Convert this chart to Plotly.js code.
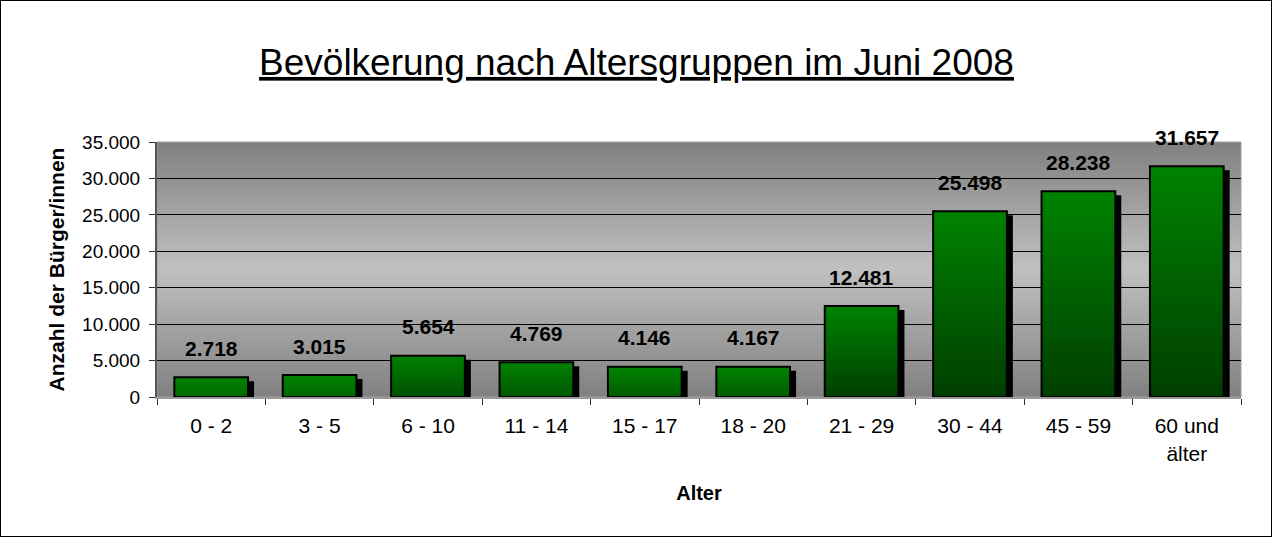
<!DOCTYPE html>
<html>
<head>
<meta charset="utf-8">
<script src="https://cdn.plot.ly/plotly-3.0.1.min.js"></script>
<style>
  html, body { margin: 0; padding: 0; background: #fff; }
  #wrap { position: relative; width: 1273px; height: 538px; }
  #chart { width: 1273px; height: 538px; }
  #frame { position: absolute; left: 0; top: 0; width: 1272px; height: 537px;
           border: 1px solid #000; box-sizing: border-box; pointer-events: none; }
</style>
</head>
<body>
<div id="wrap"><div id="chart"></div><div id="frame"></div></div>
<script>
// ---- data ----
const chartTitle = 'Bevölkerung nach Altersgruppen im Juni 2008';
const xTitle = 'Alter';
const yTitle = 'Anzahl der Bürger/innen';
const categories = ['0 - 2', '3 - 5', '6 - 10', '11 - 14', '15 - 17', '18 - 20',
                    '21 - 29', '30 - 44', '45 - 59', '60 und<br>älter'];
const residents = [2718, 3015, 5654, 4769, 4146, 4167, 12481, 25498, 28238, 31657];

function fmtDE(v) {
  return String(v).replace(/\B(?=(\d{3})+(?!\d))/g, '.');
}

const FONT = 'Liberation Sans, Arial, Helvetica, sans-serif';

const trace = {
  type: 'bar',
  x: categories,
  y: residents,
  width: 0.68,
  marker: { color: '#007000', line: { color: '#000000', width: 2 } },
  hoverinfo: 'x+y'
};

const annotations = categories.map((c, i) => ({
  x: c, y: residents[i], xref: 'x', yref: 'y',
  text: '<b>' + fmtDE(residents[i]) + '</b>',
  showarrow: false, yanchor: 'middle', yshift: 29,
  font: { family: FONT, size: 21, color: '#000' }
}));

const layout = {
  width: 1273, height: 538,
  margin: { l: 157, r: 32, t: 142, b: 141 },
  paper_bgcolor: '#ffffff',
  plot_bgcolor: '#a8a8a8',
  separators: ',.',
  showlegend: false,
  bargap: 0.32,
  title: {
    text: '<u>' + chartTitle + '</u>',
    font: { family: FONT, size: 37, color: '#000' },
    x: 0.5, xref: 'container', xanchor: 'center',
    y: 1 - 62 / 538, yref: 'container', yanchor: 'middle'
  },
  xaxis: {
    type: 'category',
    tickson: 'boundaries',
    ticks: 'outside', ticklen: 6, tickcolor: '#333', tickwidth: 1,
    showline: true, linecolor: '#9a9a9a', linewidth: 2,
    showgrid: false, zeroline: false,
    ticklabelstandoff: 9,
    tickfont: { family: FONT, size: 21, color: '#000' },
    title: { text: '<b>' + xTitle + '</b>', standoff: 22,
             font: { family: FONT, size: 20, color: '#000' } }
  },
  yaxis: {
    range: [0, 35000], dtick: 5000, tick0: 0,
    separatethousands: true, tickformat: ',d',
    ticks: 'outside', ticklen: 6, tickcolor: '#333', tickwidth: 1,
    showline: true, linecolor: '#555', linewidth: 2,
    showgrid: true, gridcolor: '#000', gridwidth: 1,
    zeroline: false,
    ticklabelstandoff: 5,
    tickfont: { family: FONT, size: 19, color: '#000' },
    title: { text: '<b>' + yTitle + '</b>', standoff: 12,
             font: { family: FONT, size: 21, color: '#000' } }
  },
  shapes: [{
    type: 'rect', xref: 'paper', yref: 'paper', x0: 0, x1: 1, y0: 0, y1: 1,
    line: { color: '#a0a0a0', width: 1 }, fillcolor: 'rgba(0,0,0,0)', layer: 'below'
  }],
  annotations: annotations
};

Plotly.newPlot('chart', [trace], layout, { displayModeBar: false, staticPlot: true }).then(gd => {
  const svgNS = 'http://www.w3.org/2000/svg';
  const svg = gd.querySelector('svg.main-svg');
  let defs = svg.querySelector('defs');
  if (!defs) { defs = document.createElementNS(svgNS, 'defs'); svg.insertBefore(defs, svg.firstChild); }

  // plot-area background gradient: dark top, light middle, dark bottom
  const bg = document.createElementNS(svgNS, 'linearGradient');
  bg.setAttribute('id', 'plotBgGrad');
  bg.setAttribute('x1', '0'); bg.setAttribute('y1', '0');
  bg.setAttribute('x2', '0'); bg.setAttribute('y2', '1');
  [['0', '#808080'], ['0.5', '#c0c0c0'], ['1', '#808080']].forEach(([o, c]) => {
    const s = document.createElementNS(svgNS, 'stop');
    s.setAttribute('offset', o); s.setAttribute('stop-color', c); bg.appendChild(s);
  });
  defs.appendChild(bg);
  const bgRect = gd.querySelector('.bglayer rect.bg');
  if (bgRect) bgRect.style.fill = 'url(#plotBgGrad)';

  // drop shadow filter for the bars
  const f = document.createElementNS(svgNS, 'filter');
  f.setAttribute('id', 'barShadow');
  f.setAttribute('x', '-50%'); f.setAttribute('y', '-50%');
  f.setAttribute('width', '200%'); f.setAttribute('height', '200%');
  f.innerHTML = '<feOffset in="SourceAlpha" dx="5" dy="5" result="off"/>' +
    '<feMerge><feMergeNode in="off"/><feMergeNode in="SourceGraphic"/></feMerge>';
  defs.appendChild(f);

  // green gradient per bar, darkening from the top downwards
  gd.querySelectorAll('.bars .point path').forEach((p, i) => {
    const b = p.getBBox();
    const len = Math.max(b.height, 55);
    const g = document.createElementNS(svgNS, 'linearGradient');
    g.setAttribute('id', 'barGrad' + i);
    g.setAttribute('gradientUnits', 'userSpaceOnUse');
    g.setAttribute('x1', b.x); g.setAttribute('x2', b.x);
    g.setAttribute('y1', b.y); g.setAttribute('y2', b.y + len);
    [['0', '#008200'], ['1', '#003e00']].forEach(([o, c]) => {
      const s = document.createElementNS(svgNS, 'stop');
      s.setAttribute('offset', o); s.setAttribute('stop-color', c); g.appendChild(s);
    });
    defs.appendChild(g);
    p.style.fill = 'url(#barGrad' + i + ')';
    p.setAttribute('filter', 'url(#barShadow)');
  });
});
</script>
</body>
</html>
